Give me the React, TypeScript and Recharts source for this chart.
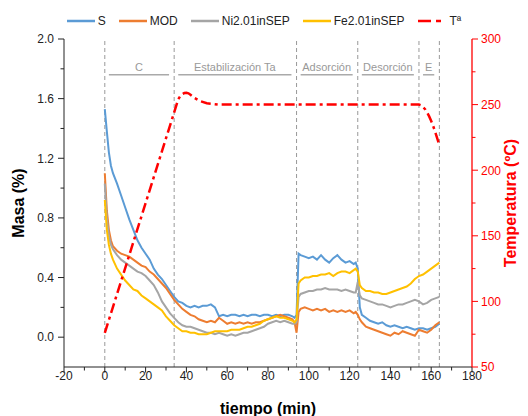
import { ComposedChart, Line, XAxis, YAxis, ReferenceLine } from "recharts"

// tiempo (min) de las curvas de masa
const tiempo = [
  0, 1, 2, 3, 4,
  6, 8, 10, 12, 14, 16, 18, 20, 22, 24, 26, 28, 30, 32, 34, 36, 38, 40, 42, 44, 46, 48, 50,
  52, 54, 56, 58, 60, 62, 64, 66, 68, 70, 72, 74, 76, 78, 80, 82, 84, 86, 88, 90, 92,
  93, 94, 95,
  96, 98, 100, 102, 104, 106, 108, 110, 112, 114, 116, 118, 120, 122,
  123, 124, 125,
  126, 128, 130, 132, 134, 136, 138, 140, 142, 144, 146, 148, 150, 152, 154, 156, 158, 160, 162, 164,
]

const masaS = [
  1.53, 1.38, 1.24, 1.15, 1.1,
  1.03, 0.95, 0.87, 0.79, 0.72, 0.65, 0.6, 0.56, 0.52, 0.46, 0.42, 0.39, 0.35, 0.31, 0.27, 0.24, 0.23, 0.21, 0.2, 0.21, 0.2, 0.21, 0.21,
  0.22, 0.2, 0.14, 0.15, 0.14, 0.15, 0.15, 0.14, 0.15, 0.14, 0.15, 0.15, 0.14, 0.15, 0.15, 0.14, 0.15, 0.14, 0.15, 0.15, 0.14,
  0.13, 0.15, 0.56,
  0.55, 0.54, 0.53, 0.54, 0.52, 0.55, 0.52, 0.5, 0.53, 0.55, 0.52, 0.5, 0.51, 0.49,
  0.5, 0.46, 0.2,
  0.15, 0.13, 0.11, 0.1, 0.09, 0.1, 0.08, 0.07, 0.08, 0.07, 0.06, 0.07, 0.06, 0.05, 0.06, 0.06, 0.05, 0.06, 0.07, 0.09,
]

const masaMOD = [
  1.1, 0.85, 0.72, 0.65, 0.61,
  0.58, 0.56, 0.55, 0.54, 0.52, 0.5, 0.48, 0.47, 0.44, 0.42, 0.39, 0.36, 0.33, 0.29, 0.25, 0.22, 0.19, 0.17, 0.15, 0.14, 0.12, 0.11, 0.1,
  0.11, 0.1, 0.13, 0.11, 0.09, 0.1, 0.09, 0.1, 0.09, 0.1, 0.09, 0.1, 0.1, 0.11, 0.12, 0.13, 0.14, 0.15, 0.14, 0.13, 0.12,
  0.1, 0.03, 0.17,
  0.19, 0.2, 0.19, 0.18, 0.19, 0.18, 0.19, 0.17, 0.18, 0.17, 0.18, 0.17, 0.18, 0.16,
  0.17, 0.15, 0.12,
  0.1, 0.07, 0.06, 0.05, 0.04, 0.03, 0.02, 0.01, 0.03, 0.02, 0.04, 0.03, 0.02, 0.01, 0.05, 0.04, 0.03, 0.05, 0.08, 0.1,
]

const masaNi = [
  1.03, 0.8, 0.68, 0.62, 0.59,
  0.55, 0.52, 0.5, 0.48, 0.46, 0.44, 0.43, 0.41, 0.38, 0.35, 0.3, 0.24, 0.2, 0.16, 0.13, 0.1, 0.08, 0.07, 0.07, 0.06, 0.05, 0.04, 0.03,
  0.03, 0.02, 0.03, 0.02, 0.01, 0.02, 0.01, 0.02, 0.03, 0.03, 0.04, 0.05, 0.06, 0.07, 0.09, 0.1, 0.11, 0.1, 0.11, 0.1, 0.09,
  0.09, 0.1, 0.27,
  0.29, 0.3, 0.31, 0.31, 0.32, 0.32, 0.33, 0.32, 0.32, 0.32, 0.31, 0.32, 0.31, 0.3,
  0.3, 0.37, 0.28,
  0.26, 0.25, 0.24, 0.23, 0.22, 0.22, 0.21, 0.2, 0.21, 0.22, 0.22, 0.23, 0.24, 0.25, 0.24, 0.22, 0.23, 0.25, 0.26, 0.27,
]

const masaFe = [
  0.92, 0.72, 0.62, 0.56, 0.52,
  0.46, 0.42, 0.38, 0.35, 0.32, 0.31, 0.28, 0.26, 0.24, 0.22, 0.2, 0.18, 0.14, 0.11, 0.08, 0.06, 0.04, 0.04, 0.03, 0.03, 0.02, 0.02, 0.02,
  0.03, 0.04, 0.04, 0.04, 0.04, 0.05, 0.05, 0.05, 0.06, 0.07, 0.07, 0.08, 0.09, 0.11, 0.12, 0.13, 0.14, 0.13, 0.13, 0.12, 0.11,
  0.1, 0.12, 0.36,
  0.38, 0.4, 0.4, 0.41, 0.41, 0.42, 0.42, 0.43, 0.41, 0.43, 0.44, 0.44, 0.43, 0.45,
  0.46, 0.44, 0.35,
  0.33, 0.31, 0.31, 0.3, 0.3, 0.29, 0.29, 0.3, 0.31, 0.32, 0.33, 0.34, 0.36, 0.39, 0.41, 0.42, 0.44, 0.46, 0.48, 0.5,
]

// temperatura (ºC), eje derecho
const tiempoTemp = [0, 36, 37, 38, 39, 40, 41, 42, 44, 47, 50, 56, 154, 155, 156, 157, 158, 159, 160, 161, 162, 163, 164]
const temperatura = [76, 254, 256.5, 258, 258.8, 259, 258.6, 257.5, 255, 252.5, 251, 250, 250, 249.5, 248, 246.5, 244, 241, 237.5, 233.5, 229, 224, 219]

const fases = ["C", "Estabilización Ta", "Adsorción", "Desorción", "E"]
const limitesFase = [0, 34, 94, 124, 154, 164]

const ticksTiempo = [-20, -10, 0, 10, 20, 30, 40, 50, 60, 70, 80, 90, 100, 110, 120, 130, 140, 150, 160, 170, 180]
const ticksMasa = [0, 0.2, 0.4, 0.6, 0.8, 1.0, 1.2, 1.4, 1.6, 1.8, 2.0]
const ticksTemp = [50, 75, 100, 125, 150, 175, 200, 225, 250, 275, 300]

const series = [
  { key: "S", color: "#5B9BD5", values: masaS },
  { key: "MOD", color: "#ED7D31", values: masaMOD },
  { key: "Ni2.01inSEP", color: "#A5A5A5", values: masaNi },
  { key: "Fe2.01inSEP", color: "#FFC000", values: masaFe },
]

type Row = { t: number; [k: string]: number }
const filas = new Map<number, Row>()
tiempo.forEach((t, i) => {
  const fila: Row = { t }
  series.forEach((s) => (fila[s.key] = s.values[i]))
  filas.set(t, fila)
})
tiempoTemp.forEach((t, i) => {
  const fila = filas.get(t) ?? { t }
  fila.T = temperatura[i]
  filas.set(t, fila)
})
const datos = Array.from(filas.values()).sort((a, b) => a.t - b.t)

const FONT = "Arial, 'Liberation Sans', sans-serif"
const INK = "#222"
const RED = "#FF0000"

function MasaTick({ x, y, payload, index }: any) {
  const major = index % 2 === 0
  return (
    <g>
      <line x1={x} y1={y} x2={x - (major ? 6 : 3.5)} y2={y} stroke={INK} />
      {major && (
        <text x={x - 10} y={y + 4.3} textAnchor="end" fontSize={12} fill={INK} fontFamily={FONT}>
          {Number(payload.value).toFixed(1)}
        </text>
      )}
    </g>
  )
}

function TempTick({ x, y, payload, index }: any) {
  const major = index % 2 === 0
  return (
    <g>
      <line x1={x} y1={y} x2={x + (major ? 6 : 3.5)} y2={y} stroke={RED} />
      {major && (
        <text x={x + 9} y={y + 4.3} textAnchor="start" fontSize={12} fill={RED} fontFamily={FONT}>
          {payload.value}
        </text>
      )}
    </g>
  )
}

function TiempoTick({ x, y, payload, index }: any) {
  const major = index % 2 === 0
  return (
    <g>
      <line x1={x} y1={y} x2={x} y2={y + (major ? 5.5 : 3.5)} stroke={INK} />
      {major && (
        <text x={x} y={y + 13} textAnchor="middle" fontSize={12} fill={INK} fontFamily={FONT}>
          {payload.value}
        </text>
      )}
    </g>
  )
}

function TopTick({ x, y }: any) {
  return <line x1={x} y1={y} x2={x} y2={y + 4} stroke={INK} />
}

function Leyenda() {
  return (
    <div
      style={{
        position: "absolute",
        top: 13,
        left: 0,
        width: 528,
        display: "flex",
        justifyContent: "center",
        fontFamily: FONT,
        fontSize: 12,
        lineHeight: "16px",
        color: INK,
      }}
    >
      {series.map((s) => (
        <div key={s.key} style={{ display: "flex", alignItems: "center", marginRight: 13 }}>
          <svg width={28} height={4}>
            <line x1={0} y1={2} x2={28} y2={2} stroke={s.color} strokeWidth={2.5} />
          </svg>
          <span style={{ marginLeft: 3 }}>{s.key}</span>
        </div>
      ))}
      <div style={{ display: "flex", alignItems: "center" }}>
        <svg width={24} height={4}>
          <line x1={0} y1={2} x2={24} y2={2} stroke={RED} strokeWidth={2.5} strokeDasharray="13 5 5 5" />
        </svg>
        <span style={{ marginLeft: 8 }}>Tª</span>
      </div>
    </div>
  )
}

export default function App() {
  const nivelFase = 1.76
  return (
    <div style={{ position: "absolute", left: 0, top: 0, width: 528, height: 416, background: "#fff" }}>
      <Leyenda />
      <ComposedChart width={528} height={416} data={datos} margin={{ top: 39, right: 0, bottom: 0, left: 0 }}>
        <XAxis
          xAxisId="top"
          orientation="top"
          type="number"
          dataKey="t"
          domain={[-20, 180]}
          ticks={ticksTiempo}
          interval={0}
          height={0}
          tickSize={0}
          tickMargin={0}
          tickLine={false}
          tick={<TopTick />}
          axisLine={{ stroke: INK }}
          allowDataOverflow
        />
        <XAxis
          xAxisId="t"
          type="number"
          dataKey="t"
          domain={[-20, 180]}
          ticks={ticksTiempo}
          interval={0}
          height={49}
          tickSize={0}
          tickMargin={0}
          tickLine={false}
          tick={<TiempoTick />}
          axisLine={{ stroke: INK }}
          allowDataOverflow
          label={({ viewBox }: any) => (
            <text
              x={viewBox.x + viewBox.width / 2}
              y={viewBox.y + 47}
              textAnchor="middle"
              fontSize={16}
              fontWeight="bold"
              fill="#000"
              fontFamily={FONT}
            >
              tiempo (min)
            </text>
          )}
        />
        <YAxis
          yAxisId="masa"
          type="number"
          domain={[-0.2, 2.0]}
          ticks={ticksMasa}
          interval={0}
          width={64}
          tickSize={0}
          tickMargin={0}
          tickLine={false}
          tick={<MasaTick />}
          axisLine={{ stroke: INK }}
          allowDataOverflow
          label={({ viewBox }: any) => {
            const cx = viewBox.x + 18
            const cy = viewBox.y + viewBox.height / 2
            return (
              <text
                x={cx}
                y={cy}
                transform={`rotate(-90 ${cx} ${cy})`}
                textAnchor="middle"
                dominantBaseline="central"
                fontSize={16}
                fontWeight="bold"
                fill="#000"
                fontFamily={FONT}
              >
                Masa (%)
              </text>
            )
          }}
        />
        <YAxis
          yAxisId="temp"
          orientation="right"
          type="number"
          domain={[50, 300]}
          ticks={ticksTemp}
          interval={0}
          width={56}
          tickSize={0}
          tickMargin={0}
          tickLine={false}
          tick={<TempTick />}
          axisLine={{ stroke: RED, strokeWidth: 1.3 }}
          allowDataOverflow
          label={({ viewBox }: any) => {
            const cx = viewBox.x + 38
            const cy = viewBox.y + viewBox.height / 2
            return (
              <text
                x={cx}
                y={cy}
                transform={`rotate(-90 ${cx} ${cy})`}
                textAnchor="middle"
                dominantBaseline="central"
                fontSize={16}
                fontWeight="bold"
                fill={RED}
                fontFamily={FONT}
              >
                Temperatura (ºC)
              </text>
            )
          }}
        />

        {limitesFase.map((x) => (
          <ReferenceLine key={`v${x}`} xAxisId="t" yAxisId="masa" x={x} stroke="#999" strokeDasharray="4 3" />
        ))}
        {fases.map((nombre, i) => (
          <ReferenceLine
            key={nombre}
            xAxisId="t"
            yAxisId="masa"
            segment={[
              { x: limitesFase[i] + 2, y: nivelFase },
              { x: limitesFase[i + 1] - 2.5, y: nivelFase },
            ]}
            stroke="#aaa"
            strokeWidth={1.5}
            label={{ value: nombre, position: "top", fill: "#999", fontSize: 11, offset: 4, fontFamily: FONT }}
          />
        ))}

        {series.map((s) => (
          <Line
            key={s.key}
            xAxisId="t"
            yAxisId="masa"
            type="linear"
            dataKey={s.key}
            stroke={s.color}
            strokeWidth={2}
            dot={false}
            connectNulls
            isAnimationActive={false}
          />
        ))}
        <Line
          xAxisId="t"
          yAxisId="temp"
          type="linear"
          dataKey="T"
          stroke={RED}
          strokeWidth={2.5}
          strokeDasharray="10 4 3 4"
          dot={false}
          connectNulls
          isAnimationActive={false}
        />
      </ComposedChart>
    </div>
  )
}
